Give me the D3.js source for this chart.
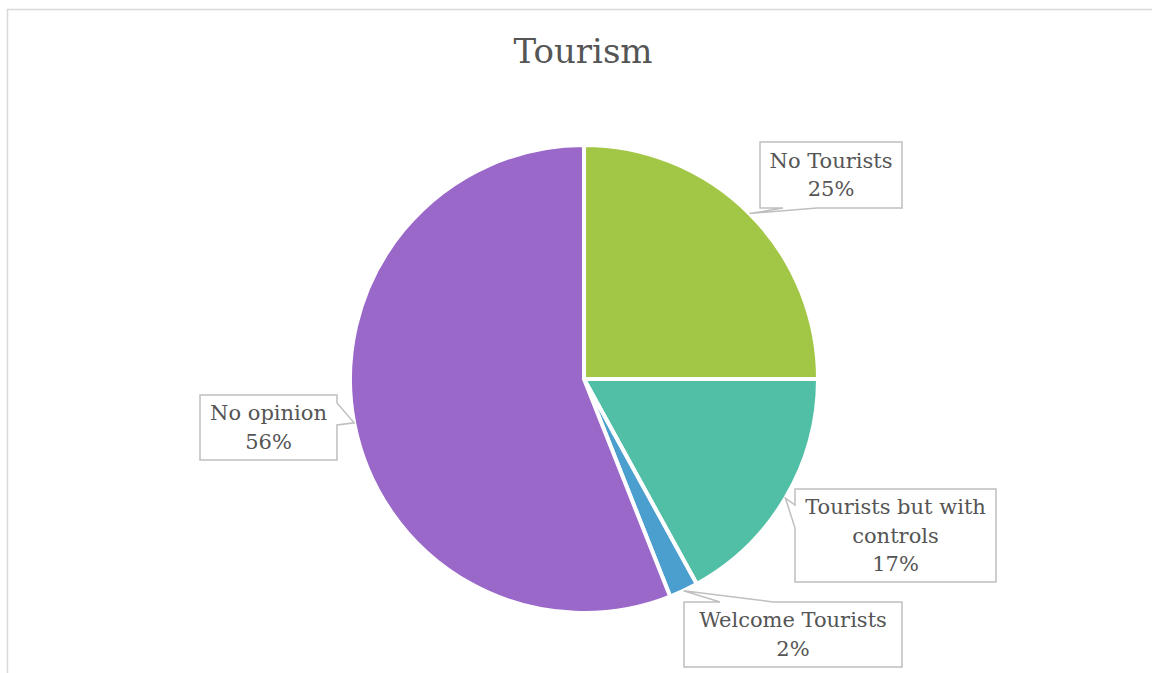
<!DOCTYPE html>
<html>
<head>
<meta charset="utf-8">
<script src="https://cdn.jsdelivr.net/npm/d3@7"></script>
<style>
  html, body { margin: 0; padding: 0; background: #ffffff; }
  svg { display: block; }
  text { font-family: "DejaVu Serif", "Liberation Serif", serif; fill: #555555; }
</style>
</head>
<body>
<svg id="chart" width="1152" height="673"></svg>
<script>
// Survey answers, in clockwise order starting at 12 o'clock
const categories = ["No Tourists", "Tourists but with controls", "Welcome Tourists", "No opinion"];
const values = [25, 17, 2, 56];
const colors = ["#a2c645", "#50bfa5", "#4a9fcf", "#9a68c9"];
const labelLines = [["No Tourists"], ["Tourists but with", "controls"], ["Welcome Tourists"], ["No opinion"]];

const svg = d3.select("#chart");

// chart area frame (top and left edges visible)
svg.append("rect")
  .attr("x", 7.5).attr("y", 9.5)
  .attr("width", 1200).attr("height", 700)
  .attr("fill", "none").attr("stroke", "#d9d9d9").attr("stroke-width", 1.5);

svg.append("text")
  .attr("x", 583).attr("y", 63)
  .attr("text-anchor", "middle")
  .attr("font-size", 34)
  .text("Tourism");

const cx = 584, cy = 379, r = 234;
const total = d3.sum(values);
const data = categories.map((c, i) => ({ name: c, value: values[i], color: colors[i], lines: labelLines[i] }));

const pie = d3.pie().value(d => d.value).sort(null);
const arcs = pie(data);
const arc = d3.arc().innerRadius(0).outerRadius(r);
const edgeArc = d3.arc().innerRadius(r).outerRadius(r);

const g = svg.append("g").attr("transform", `translate(${cx},${cy})`);
g.selectAll("path.slice")
  .data(arcs)
  .join("path")
  .attr("class", "slice")
  .attr("d", arc)
  .attr("fill", d => d.data.color)
  .attr("stroke", "#ffffff")
  .attr("stroke-width", 4)
  .attr("stroke-linejoin", "round");

// callout boxes: box rect, side carrying the pointer, and the pointer base span on that side
const boxes = [
  { x: 760, y: 142, w: 142, h: 66, side: "bottom", b0: 783, b1: 817 },
  { x: 795, y: 489, w: 201, h: 93, side: "left", b0: 505, b1: 528 },
  { x: 684, y: 602, w: 218, h: 65, side: "top", b0: 720, b1: 773 },
  { x: 200, y: 395, w: 137, h: 65, side: "right", b0: 403, b1: 425 }
];

function calloutPath(b, tip) {
  const x0 = b.x, y0 = b.y, x1 = b.x + b.w, y1 = b.y + b.h;
  const [tx, ty] = tip;
  let p = `M${x0},${y0}`;
  if (b.side === "top") p += `L${b.b0},${y0}L${tx},${ty}L${b.b1},${y0}`;
  p += `L${x1},${y0}`;
  if (b.side === "right") p += `L${x1},${b.b0}L${tx},${ty}L${x1},${b.b1}`;
  p += `L${x1},${y1}`;
  if (b.side === "bottom") p += `L${b.b1},${y1}L${tx},${ty}L${b.b0},${y1}`;
  p += `L${x0},${y1}`;
  if (b.side === "left") p += `L${x0},${b.b1}L${tx},${ty}L${x0},${b.b0}`;
  return p + "Z";
}

const lab = svg.append("g");
arcs.forEach((a, i) => {
  const b = boxes[i];
  const c = edgeArc.centroid(a);
  const tip = [cx + c[0], cy + c[1]];
  lab.append("path")
    .attr("d", calloutPath(b, tip))
    .attr("fill", "#ffffff")
    .attr("stroke", "#bfbfbf")
    .attr("stroke-width", 1.5)
    .attr("stroke-linejoin", "miter");
  const lines = a.data.lines.concat([Math.round(a.data.value / total * 100) + "%"]);
  const lh = 28.5;
  const midX = b.x + b.w / 2;
  const firstBase = b.y + b.h / 2 - (lines.length - 1) * lh / 2 + 7;
  const t = lab.append("text")
    .attr("text-anchor", "middle")
    .attr("font-size", 21);
  lines.forEach((s, k) => {
    t.append("tspan").attr("x", midX).attr("y", firstBase + k * lh).text(s);
  });
});
</script>
</body>
</html>
